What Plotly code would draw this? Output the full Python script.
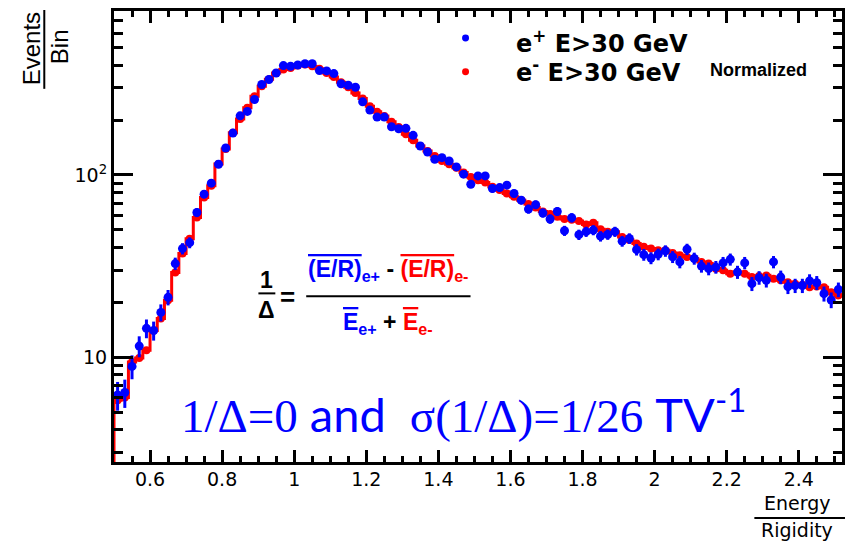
import numpy as np
import plotly.graph_objects as go

# Binning of the E/R distribution
BIN_LO = 0.50
BIN_WIDTH = 0.02

# Events per bin, positrons (E > 30 GeV)
positron = [
    6.2, 6.4, 8.9, 11.5, 14.4, 14.0, 17.6, 21.3, 32.6, 39.4,
    42.5, 62.2, 78.4, 90.1, 114.4, 140.4, 169.6, 210.9, 222.9, 259.3,
    313.0, 333.4, 362.2, 397.7, 394.2, 400.7, 406.8, 406.8, 373.4, 372.0,
    359.5, 316.2, 310.3, 302.6, 251.5, 226.6, 207.5, 207.5, 183.6, 179.1,
    180.0, 164.8, 144.0, 133.6, 121.8, 124.3, 119.2, 110.6, 100.9, 88.9,
    98.7, 98.7, 84.2, 85.2, 87.8, 79.1, 72.7, 64.9, 68.6, 61.8,
    57.3, 63.0, 49.4, 58.2, 47.0, 48.8, 49.8, 46.1, 47.1, 48.8,
    43.3, 44.8, 38.9, 36.5, 35.0, 36.7, 38.3, 35.5, 33.3, 39.1,
    34.8, 31.6, 30.6, 31.2, 32.9, 34.4, 29.3, 32.9, 25.3, 27.3,
    26.4, 33.3, 27.5, 24.4, 24.7, 24.7, 26.2, 25.6, 22.3, 20.6,
    23.5,
]

# Events per bin, electrons (E > 30 GeV), normalized to the positron sample
electron = [
    5.8, 6.0, 9.4, 9.9, 10.9, 14.0, 16.3, 20.5, 29.1, 37.0,
    44.7, 58.4, 75.2, 87.1, 114.8, 138.7, 170.2, 202.3, 233.3, 270.2,
    306.5, 334.6, 362.2, 378.1, 385.8, 397.7, 402.7, 394.2, 381.9, 362.2,
    344.0, 322.3, 302.6, 281.7, 262.5, 238.3, 221.8, 210.1, 195.6, 183.0,
    166.9, 154.7, 144.0, 135.2, 127.0, 119.2, 114.4, 109.6, 102.9, 97.5,
    93.5, 90.8, 86.0, 82.5, 79.1, 75.8, 72.7, 69.2, 66.3, 63.0,
    61.0, 59.0, 57.3, 56.8, 55.8, 53.5, 54.7, 50.4, 48.8, 48.8,
    45.7, 43.9, 42.0, 40.3, 39.4, 38.6, 38.6, 37.3, 36.2, 35.5,
    34.8, 33.3, 32.6, 30.6, 30.0, 28.7, 29.3, 28.7, 27.5, 27.9,
    28.1, 26.9, 26.4, 25.8, 25.3, 25.0, 24.2, 24.4, 24.2, 22.7,
    21.8,
]

# Effective raw counts per unit of normalized events (for Poisson errors)
COUNTS_PER_UNIT = 5.0

x_ticks = [0.6, 0.8, 1.0, 1.2, 1.4, 1.6, 1.8, 2.0, 2.2, 2.4]
x_ticktext = ["0.6", "0.8", "1", "1.2", "1.4", "1.6", "1.8", "2", "2.2", "2.4"]
y_ticks = [10, 100]
y_ticktext = ["10", "10<sup>2</sup>"]
y_minor = [3, 4, 5, 6, 7, 8, 9, 20, 30, 40, 50, 60, 70, 80, 90, 200, 300, 400, 500, 600, 700]

pos = np.array(positron)
ele = np.array(electron)
n = len(pos)
centers = BIN_LO + BIN_WIDTH * (np.arange(n) + 0.5)
edges = BIN_LO + BIN_WIDTH * np.arange(n + 1)
pos_err = np.sqrt(pos / COUNTS_PER_UNIT)

# Histogram outline for the electron sample, rising from below the axis
hx = [edges[0]]
hy = [1.0]
for i in range(n):
    hx += [edges[i], edges[i + 1]]
    hy += [ele[i], ele[i]]

BLUE = "#0000ff"
RED = "#ff0000"

fig = go.Figure()
fig.add_trace(go.Scatter(x=hx, y=hy, mode="lines",
                         line=dict(color=RED, width=3), showlegend=False,
                         hoverinfo="skip"))
fig.add_trace(go.Scatter(x=centers, y=ele, mode="markers",
                         marker=dict(color=RED, size=8), showlegend=False))
fig.add_trace(go.Scatter(x=centers, y=pos, mode="markers",
                         marker=dict(color=BLUE, size=9),
                         error_y=dict(type="data", array=pos_err, color=BLUE,
                                      thickness=3, width=0),
                         showlegend=False))

# Layout geometry (pixels)
W, H = 853, 542
ML, MR, MT, MB = 114, 8, 10, 80
PW = W - ML - MR
PH = H - MT - MB


def fx(px):
    return (px - ML) / PW


def fy(py):
    return (H - MB - py) / PH


SANS = "Liberation Sans, Arial, sans-serif"
WIDE = "DejaVu Sans, sans-serif"

annotations = []
shapes = []


def note(text, x, y, size, family=SANS, color="black", xanchor="center",
         yanchor="middle", angle=0):
    annotations.append(dict(text=text, x=fx(x), y=fy(y), xref="paper", yref="paper",
                            showarrow=False, xanchor=xanchor, yanchor=yanchor,
                            textangle=angle, borderpad=0,
                            font=dict(size=size, family=family, color=color)))


def hline(x0, x1, y, width=2, color="black"):
    shapes.append(dict(type="line", xref="paper", yref="paper",
                       x0=fx(x0), x1=fx(x1), y0=fy(y), y1=fy(y),
                       line=dict(color=color, width=width)))


def vline(x, y0, y1, width=2, color="black"):
    shapes.append(dict(type="line", xref="paper", yref="paper",
                       x0=fx(x), x1=fx(x), y0=fy(y0), y1=fy(y1),
                       line=dict(color=color, width=width)))


def dot(x, y, r, color):
    shapes.append(dict(type="circle", xref="paper", yref="paper",
                       x0=fx(x - r), x1=fx(x + r), y0=fy(y + r), y1=fy(y - r),
                       fillcolor=color, line=dict(width=0)))


# Axis titles as fractions
note("Events", 32, 48, 24, angle=-90)
note("Bin", 60, 46, 24, angle=-90)
vline(44, 9, 88)
note("Energy", 800, 503, 19, family=WIDE)
hline(757, 848, 518)
note("Rigidity", 800, 530, 19, family=WIDE)

# Legend
dot(467, 37, 3.5, BLUE)
dot(467, 71, 3.5, RED)
note("<b>e<sup>+</sup> E&gt;30 GeV</b>", 517, 41, 24, family=WIDE, xanchor="left")
note("<b>e<sup>-</sup> E&gt;30 GeV</b>", 517, 70, 24, family=WIDE, xanchor="left")
note("<b>Normalized</b>", 711, 69, 18, xanchor="left")

# Asymmetry definition
OV = '<span style="text-decoration:overline">'
note("<b>1</b>", 267, 280, 23)
hline(259, 276, 293)
note("<b>Δ</b>", 267, 310, 23)
note("<b>=</b>", 288, 297, 26)
hline(307, 472, 296)
note("<b><span style=\"color:blue\">" + OV + "(E/R)</span><sub>e+</sub></span>"
     " - <span style=\"color:red\">" + OV + "(E/R)</span><sub>e-</sub></span></b>",
     389, 270, 23)
note("<b><span style=\"color:blue\">" + OV + "E</span><sub>e+</sub></span>"
     " + <span style=\"color:red\">" + OV + "E</span><sub>e-</sub></span></b>",
     389, 323, 23)

SERIF = '<span style="font-family:Liberation Serif">'
note(SERIF + "1/Δ=0</span> and  " + SERIF + "σ(1/Δ)=1/26</span> TV<sup>-1</sup>",
     465, 411, 47, family="Lato, sans-serif", color=BLUE)

fig.update_layout(
    width=W, height=H,
    margin=dict(l=ML, r=MR, t=MT, b=MB, pad=0),
    paper_bgcolor="white", plot_bgcolor="white",
    showlegend=False,
    annotations=annotations, shapes=shapes,
    xaxis=dict(range=[BIN_LO, 2.52], showgrid=False, zeroline=False,
               showline=True, linewidth=3, linecolor="black", mirror="ticks",
               ticks="inside", ticklen=12, tickwidth=2.5, tickcolor="black",
               tickmode="array", tickvals=x_ticks, ticktext=x_ticktext,
               ticklabelstandoff=-2,
               tickfont=dict(family=WIDE, size=19, color="black"),
               minor=dict(ticks="inside", ticklen=6, tickwidth=2.5, tickcolor="black",
                          tickmode="linear", tick0=0.5, dtick=0.05)),
    yaxis=dict(type="log", range=[0.425, 2.899], showgrid=False, zeroline=False,
               showline=True, linewidth=3, linecolor="black", mirror="ticks",
               ticks="inside", ticklen=19, tickwidth=3, tickcolor="black",
               tickmode="array", tickvals=y_ticks, ticktext=y_ticktext,
               tickfont=dict(family=WIDE, size=19, color="black"),
               minor=dict(ticks="inside", ticklen=9, tickwidth=3, tickcolor="black",
                          tickmode="array", tickvals=y_minor)),
)

fig.write_html("out.html")
